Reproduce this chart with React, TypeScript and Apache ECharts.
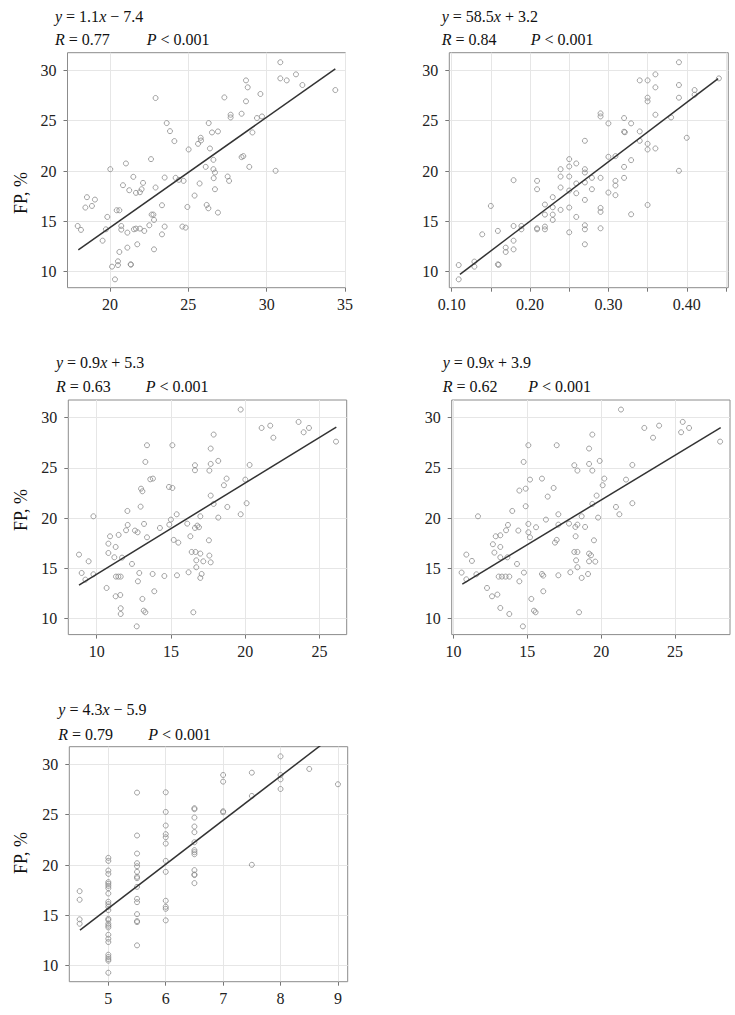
import React, { useEffect, useRef } from 'react';
import * as echarts from 'echarts';

const FONT = "Liberation Serif, Times New Roman, serif";

// y axis (FP, %) ticks shared by all panels
const fpTicks = [10, 15, 20, 25, 30];

// Panel 1
const p1XTicks = [20, 25, 30, 35];
const p1Points = [
  [17.94, 14.54], [18.15, 14.15], [18.43, 16.37], [18.53, 17.4], [18.85, 16.53], [19.04, 17.16],
  [19.53, 13.08], [19.74, 14.21], [19.83, 15.44], [20.02, 20.18], [20.13, 10.5], [20.32, 9.24],
  [20.43, 16.1], [20.6, 16.1], [20.51, 11.03], [20.51, 10.66], [20.6, 11.96], [20.72, 14.54],
  [20.72, 14.18], [20.83, 18.59], [21.02, 20.75], [21.11, 13.88], [21.11, 12.39], [21.23, 18.09],
  [21.32, 10.73], [21.34, 10.7], [21.49, 19.42], [21.53, 14.21], [21.66, 14.28], [21.66, 17.83],
  [21.74, 12.72], [21.91, 14.28], [21.91, 17.89], [22.02, 18.19], [22.11, 18.82], [22.19, 14.05],
  [22.51, 14.61], [22.62, 21.18], [22.66, 15.67], [22.77, 15.67], [22.81, 15.14], [22.81, 12.22],
  [22.91, 18.36], [22.91, 27.25], [23.32, 16.6], [23.32, 13.71], [23.49, 19.35], [23.49, 14.48],
  [23.62, 24.76], [23.83, 23.96], [24.11, 22.97], [24.19, 19.32], [24.4, 19.12], [24.62, 14.48],
  [24.7, 19.02], [24.83, 14.38], [24.94, 16.43], [25.02, 22.14], [25.4, 17.56], [25.62, 22.7],
  [25.72, 18.76], [25.79, 23.3], [25.81, 23.03], [26.11, 20.41], [26.17, 16.63], [26.28, 16.3],
  [26.3, 24.76], [26.38, 22.24], [26.51, 23.83], [26.6, 21.11], [26.6, 20.18], [26.62, 19.29],
  [26.7, 19.85], [26.7, 18.19], [26.89, 23.93], [26.89, 15.87], [27.3, 27.31], [27.51, 19.45],
  [27.6, 19.02], [27.7, 25.59], [27.7, 25.32], [28.4, 25.69], [28.4, 21.38], [28.51, 21.48],
  [28.68, 29.0], [28.68, 26.92], [28.79, 28.31], [28.89, 20.41], [29.09, 23.83], [29.38, 25.26],
  [29.6, 27.65], [29.7, 25.42], [30.57, 20.02], [30.87, 30.8], [30.87, 29.2], [31.28, 29.0],
  [31.87, 29.6], [32.28, 28.54], [34.38, 28.04],
];
const p1Fit = [[17.98, 12.16], [34.38, 30.14]];

// Panel 2
const p2XTicks = [0.1, 0.15, 0.2, 0.25, 0.3, 0.35, 0.4, 0.45];
const p2XLabels = [0.1, 0.2, 0.3, 0.4];
const p2Points = [
  [0.109, 10.66], [0.109, 9.24], [0.129, 11.0], [0.129, 10.5], [0.139, 13.71], [0.15, 16.53],
  [0.159, 14.05], [0.159, 10.73], [0.16, 10.68], [0.169, 12.39], [0.169, 11.96], [0.179, 19.09],
  [0.179, 14.54], [0.179, 13.08], [0.179, 12.22], [0.189, 14.54], [0.189, 14.21], [0.209, 19.02],
  [0.209, 18.19], [0.209, 14.31], [0.209, 14.21], [0.219, 16.67], [0.219, 15.67], [0.219, 14.48],
  [0.219, 14.21], [0.229, 17.4], [0.229, 16.4], [0.229, 15.67], [0.229, 15.14], [0.239, 20.18],
  [0.239, 19.45], [0.239, 18.36], [0.239, 16.14], [0.25, 21.18], [0.25, 20.45], [0.25, 19.45],
  [0.25, 18.06], [0.25, 16.37], [0.25, 13.91], [0.259, 20.75], [0.259, 18.76], [0.259, 17.79],
  [0.259, 15.44], [0.27, 23.0], [0.27, 20.18], [0.27, 19.85], [0.27, 18.86], [0.27, 17.13],
  [0.27, 14.61], [0.27, 14.21], [0.27, 12.72], [0.279, 19.32], [0.279, 18.19], [0.29, 25.72],
  [0.29, 25.42], [0.29, 19.32], [0.29, 16.33], [0.29, 15.94], [0.29, 14.31], [0.3, 24.73],
  [0.3, 21.41], [0.3, 17.86], [0.309, 21.48], [0.309, 19.02], [0.309, 18.56], [0.309, 17.6],
  [0.32, 25.26], [0.32, 23.9], [0.321, 23.85], [0.32, 20.41], [0.32, 19.32], [0.329, 24.73],
  [0.329, 21.08], [0.329, 15.7], [0.34, 29.0], [0.34, 23.93], [0.34, 23.0], [0.35, 29.0],
  [0.35, 27.28], [0.35, 26.92], [0.35, 22.7], [0.35, 22.14], [0.35, 16.63], [0.36, 29.6],
  [0.36, 28.31], [0.36, 25.59], [0.36, 22.24], [0.38, 25.32], [0.39, 30.8], [0.39, 28.54],
  [0.39, 27.28], [0.39, 20.02], [0.4, 23.3], [0.41, 28.04], [0.41, 27.58], [0.441, 29.2],
];
const p2Fit = [[0.1106, 9.74], [0.44, 29.17]];

// Panel 3
const p3XTicks = [10, 15, 20, 25];
const p3Points = [
  [8.81, 16.37], [8.99, 14.54], [9.24, 13.88], [9.46, 15.7], [9.78, 20.18], [9.78, 14.41],
  [10.67, 13.05], [10.79, 17.46], [10.79, 16.53], [10.9, 18.19], [11.19, 16.1], [11.28, 17.13],
  [11.28, 12.22], [11.3, 14.18], [11.46, 14.18], [11.62, 14.18], [11.48, 18.33], [11.59, 12.35],
  [11.62, 11.03], [11.62, 10.46], [11.71, 16.07], [11.98, 18.79], [12.07, 20.71], [12.09, 19.32],
  [12.38, 15.44], [12.58, 18.76], [12.76, 18.59], [12.78, 13.71], [12.87, 14.54], [12.96, 21.14],
  [12.99, 22.93], [13.08, 22.67], [13.08, 11.96], [13.17, 10.79], [13.28, 10.63], [13.19, 19.42],
  [13.28, 25.59], [13.39, 27.25], [13.39, 18.09], [13.61, 23.86], [13.79, 23.93], [13.77, 14.44],
  [13.88, 12.72], [14.26, 19.02], [14.56, 14.24], [14.87, 23.1], [14.89, 19.35], [15.0, 19.85],
  [15.1, 27.25], [15.1, 23.0], [15.19, 17.83], [15.39, 20.38], [15.41, 14.31], [15.5, 17.56],
  [16.1, 19.45], [16.19, 14.61], [16.31, 18.19], [16.4, 16.63], [16.62, 25.26], [16.62, 24.76],
  [16.62, 19.02], [16.66, 16.63], [16.71, 15.8], [16.71, 15.11], [16.78, 19.25], [16.89, 19.09],
  [16.98, 20.18], [16.98, 16.47], [16.98, 14.05], [17.07, 14.44], [17.18, 15.7], [16.51, 10.63],
  [17.56, 17.79], [17.59, 16.27], [17.59, 24.73], [17.68, 26.92], [17.68, 25.39], [17.68, 15.6],
  [17.68, 22.24], [17.88, 28.31], [17.88, 21.41], [18.19, 25.69], [18.19, 20.05], [18.57, 23.27],
  [18.75, 23.93], [18.8, 21.11], [19.7, 30.8], [19.7, 20.38], [20.01, 23.83], [20.1, 21.48],
  [20.3, 25.29], [21.11, 28.97], [21.69, 29.2], [21.9, 28.0], [23.6, 29.57], [23.94, 28.54],
  [24.3, 28.97], [26.12, 27.61], [12.7, 9.23],
];
const p3Fit = [[8.81, 13.34], [26.14, 29.06]];

// Panel 4
const p4XTicks = [10, 15, 20, 25];
const p4Points = [
  [10.55, 14.58], [10.87, 16.37], [10.87, 13.91], [11.25, 15.74], [11.55, 14.41], [11.66, 20.18],
  [12.27, 13.05], [12.61, 12.22], [12.67, 17.4], [12.77, 16.57], [12.86, 18.19], [12.97, 12.39],
  [13.06, 14.18], [13.17, 18.29], [13.17, 17.13], [13.17, 16.1], [13.17, 11.06], [13.28, 14.18],
  [13.53, 14.18], [13.56, 18.79], [13.65, 16.1], [13.69, 19.32], [13.78, 14.18], [13.78, 10.46],
  [13.98, 20.71], [14.3, 15.44], [14.39, 18.76], [14.46, 22.74], [14.46, 13.71], [14.75, 25.59],
  [14.77, 14.58], [14.89, 22.93], [14.89, 21.18], [15.07, 27.25], [15.07, 19.42], [15.07, 18.59],
  [15.18, 23.83], [15.18, 18.09], [15.27, 11.96], [15.45, 10.79], [15.56, 10.63], [15.59, 19.09],
  [15.99, 23.93], [15.99, 14.44], [16.08, 14.28], [16.08, 12.72], [16.26, 19.85], [16.38, 22.14],
  [16.78, 23.0], [16.87, 17.56], [16.99, 17.83], [16.99, 27.25], [17.1, 20.38], [17.1, 19.35],
  [17.1, 14.31], [17.82, 19.45], [17.91, 14.61], [18.18, 25.26], [18.18, 16.63], [18.25, 19.12],
  [18.27, 18.19], [18.3, 15.8], [18.39, 24.73], [18.39, 19.35], [18.39, 16.63], [18.39, 15.11],
  [18.5, 10.63], [18.68, 20.18], [18.68, 14.05], [18.91, 19.12], [19.11, 14.44], [19.18, 26.92],
  [19.18, 25.39], [19.18, 16.47], [19.18, 15.7], [19.31, 16.3], [19.4, 28.31], [19.4, 24.73],
  [19.4, 21.41], [19.51, 17.79], [19.6, 15.67], [19.69, 22.24], [19.79, 20.05], [19.9, 25.69],
  [20.1, 23.27], [20.21, 23.93], [21.0, 21.11], [21.23, 20.38], [21.34, 30.8], [21.68, 23.83],
  [22.11, 25.29], [22.11, 21.48], [22.92, 28.97], [23.51, 28.0], [23.92, 29.2], [25.41, 28.54],
  [25.52, 29.57], [25.95, 28.97], [28.05, 27.61], [14.7, 9.23],
];
const p4Fit = [[10.6, 13.44], [28.09, 29.0]];

// Panel 5
const p5XTicks = [5, 6, 7, 8, 9];
const p5Points = [
  [4.5, 17.4], [4.5, 16.55], [4.5, 14.6], [4.5, 14.17],
  [5, 20.71], [5, 20.41], [5, 19.45], [5, 19.12], [5, 18.3], [5, 18.13], [5, 17.93], [5, 17.7],
  [5, 17.17], [5, 16.35], [5, 16.12], [5, 15.85], [5, 15.52], [5, 14.66], [5, 14.53], [5, 14.17],
  [5, 13.97], [5, 13.8], [5, 13.07], [5, 12.68], [5, 12.35], [5, 11.09], [5, 10.86], [5, 10.66],
  [5, 10.5], [5, 9.3],
  [5.5, 27.19], [5.5, 22.93], [5.5, 21.14], [5.5, 20.18], [5.5, 19.88], [5.5, 19.32], [5.5, 18.83],
  [5.5, 18.69], [5.5, 17.83], [5.5, 16.64], [5.5, 16.31], [5.5, 15.12], [5.5, 14.43], [5.5, 14.33],
  [5.5, 12.02],
  [6, 27.22], [6, 25.27], [6, 23.92], [6, 23.06], [6, 22.76], [6, 22.13], [6, 20.41], [6, 19.32],
  [6, 16.45], [6, 15.85], [6, 15.65], [6, 14.5],
  [6.5, 25.64], [6.5, 25.54], [6.5, 24.71], [6.5, 23.82], [6.5, 23.26], [6.5, 22.26], [6.5, 21.47],
  [6.5, 21.27], [6.5, 21.07], [6.5, 19.49], [6.5, 19.06], [6.5, 19.0], [6.5, 18.2],
  [7, 28.94], [7, 28.28], [7, 25.34], [7, 25.24],
  [7.5, 29.17], [7.5, 26.86], [7.5, 20.02],
  [8, 30.79], [8, 28.94], [8, 28.51], [8, 27.55],
  [8.5, 29.54], [9, 28.02],
];
const p5Fit = [[4.506, 13.54], [9.0, 33.2]];

const equations = [
  '{i|y}{n| = 1.1}{i|x}{n| \u2212 7.4}',
  '{i|y}{n| = 58.5}{i|x}{n| + 3.2}',
  '{i|y}{n| = 0.9}{i|x}{n| + 5.3}',
  '{i|y}{n| = 0.9}{i|x}{n| + 3.9}',
  '{i|y}{n| = 4.3}{i|x}{n| \u2212 5.9}',
];
const rValues = ['0.77', '0.84', '0.63', '0.62', '0.79'];
const pText = '{i|P}{n| < 0.001}';
const yName = 'FP, %';

const panels = [
  { pts: p1Points, fit: p1Fit, xMin: 17.29, xMax: 35.03, ticks: p1XTicks, labels: p1XTicks, dec: 0 },
  { pts: p2Points, fit: p2Fit, xMin: 0.097, xMax: 0.453, ticks: p2XTicks, labels: p2XLabels, dec: 2 },
  { pts: p3Points, fit: p3Fit, xMin: 8.09, xMax: 26.84, ticks: p3XTicks, labels: p3XTicks, dec: 0 },
  { pts: p4Points, fit: p4Fit, xMin: 9.88, xMax: 28.72, ticks: p4XTicks, labels: p4XTicks, dec: 0 },
  { pts: p5Points, fit: p5Fit, xMin: 4.32, xMax: 9.17, ticks: p5XTicks, labels: p5XTicks, dec: 0 },
];

const Y_MIN = 8.41;
const Y_MAX = 31.75;

const layout = [
  { left: 67.5, top: 52.7, width: 278, height: 235, eqX: 55, eqY1: 16, eqY2: 39.3, pX: 146.7, nameY: 193 },
  { left: 449.3, top: 52.7, width: 279, height: 235, eqX: 441.7, eqY1: 16, eqY2: 39.3, pX: 530.7, nameY: null },
  { left: 68.3, top: 400, width: 278.4, height: 234.6, eqX: 56, eqY1: 362.3, eqY2: 386.7, pX: 145.7, nameY: 510 },
  { left: 451.7, top: 400, width: 278.3, height: 234.6, eqX: 442.7, eqY1: 362.3, eqY2: 386.7, pX: 528.3, nameY: null },
  { left: 69.3, top: 746.7, width: 278.4, height: 235, eqX: 58.3, eqY1: 709, eqY2: 734, pX: 148.3, nameY: 853 },
];

export default function App() {
  const ref = useRef<HTMLDivElement>(null);
  useEffect(() => {
    document.body.style.margin = '0';
    if (!ref.current) return;
    const chart = echarts.init(ref.current, null, { renderer: 'svg' });

    const grids: any[] = [];
    const xAxes: any[] = [];
    const yAxes: any[] = [];
    const series: any[] = [];
    const graphics: any[] = [];

    const rich = {
      i: { fontStyle: 'italic', fontFamily: FONT, fontSize: 16, fill: '#111' },
      n: { fontStyle: 'normal', fontFamily: FONT, fontSize: 16, fill: '#111' },
    };

    panels.forEach((p, i) => {
      const L = layout[i];
      grids.push({
        left: L.left, top: L.top, width: L.width, height: L.height,
        show: true, borderColor: '#8c8c8c', borderWidth: 1, backgroundColor: 'transparent',
        containLabel: false, outerBoundsMode: 'none',
      });
      xAxes.push({
        type: 'value', gridIndex: i, min: p.xMin, max: p.xMax,
        axisLine: { show: false, onZero: false },
        axisTick: { show: true, length: 4, lineStyle: { color: '#777' }, customValues: p.ticks },
        axisLabel: {
          customValues: p.labels, margin: 9, color: '#222', fontFamily: FONT, fontSize: 16,
          formatter: (v: number) => v.toFixed(p.dec),
        },
        splitLine: { show: true, lineStyle: { color: '#e6e6e6', width: 1 } },
      });
      yAxes.push({
        type: 'value', gridIndex: i, min: Y_MIN, max: Y_MAX,
        axisLine: { show: false },
        axisTick: { show: true, length: 4, lineStyle: { color: '#777' }, customValues: fpTicks },
        axisLabel: { customValues: fpTicks, margin: 11, color: '#222', fontFamily: FONT, fontSize: 16 },
        splitLine: { show: true, lineStyle: { color: '#e6e6e6', width: 1 } },
      });
      series.push({
        type: 'scatter', xAxisIndex: i, yAxisIndex: i, data: p.pts,
        symbol: 'circle', symbolSize: 5,
        itemStyle: { color: 'rgba(255,255,255,0)', borderColor: '#8a8a8a', borderWidth: 1 },
        silent: true,
      });
      series.push({
        type: 'line', xAxisIndex: i, yAxisIndex: i, data: p.fit,
        symbol: 'none', clip: true,
        lineStyle: { color: '#333', width: 1.5 },
        silent: true,
      });
      const base = { rich, fontFamily: FONT, fontSize: 16, fill: '#111', textVerticalAlign: 'middle', verticalAlign: 'middle' };
      graphics.push({ type: 'text', x: L.eqX, y: L.eqY1, style: { ...base, text: equations[i] } });
      graphics.push({ type: 'text', x: L.eqX, y: L.eqY2, style: { ...base, text: '{i|R}{n| = ' + rValues[i] + '}' } });
      graphics.push({ type: 'text', x: L.pX, y: L.eqY2, style: { ...base, text: pText } });
      if (L.nameY !== null) {
        graphics.push({
          type: 'text', x: 21, y: L.nameY, rotation: Math.PI / 2,
          style: { text: yName, fontFamily: FONT, fontSize: 18, fill: '#111', align: 'center', verticalAlign: 'middle', textAlign: 'center', textVerticalAlign: 'middle' },
        });
      }
    });

    chart.setOption({
      animation: false,
      backgroundColor: '#fff',
      grid: grids,
      xAxis: xAxes,
      yAxis: yAxes,
      series,
      graphic: graphics,
    });
    return () => chart.dispose();
  }, []);
  return <div ref={ref} style={{ width: 735, height: 1015 }} />;
}
